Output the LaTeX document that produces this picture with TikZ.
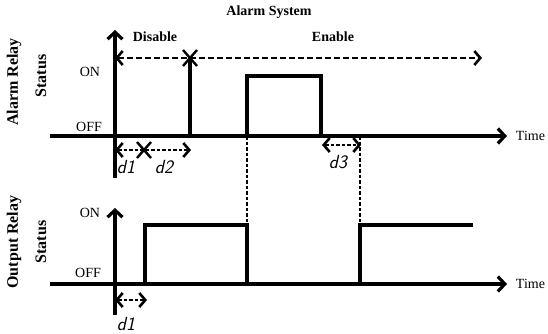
\documentclass[tikz,border=0pt]{standalone}
\usepackage{fontspec}
\setmainfont{Liberation Serif}
\usetikzlibrary{arrows.meta}
\tikzset{
  axis/.style={line width=3.2pt, -{Straight Barb[length=7pt,width=15pt,line width=3.2pt]}},
  signal/.style={line width=3.4pt, line join=miter},
  span/.style={line width=2.6pt, dash pattern=on 6pt off 3pt},
  delay/.style={line width=2.6pt, dash pattern=on 3.5pt off 2pt},
  guide/.style={line width=2.6pt, dash pattern=on 3.5pt off 2pt},
  tip/.style={{Straight Barb[length=6pt,width=14pt,line width=2.6pt]}-{Straight Barb[length=6pt,width=14pt,line width=2.6pt]}},
  lbl/.style={font=\fontsize{14}{14}\selectfont},
  blbl/.style={font=\fontsize{14}{14}\selectfont\bfseries},
  side/.style={font=\fontsize{16}{16}\selectfont\bfseries, rotate=90},
  dlbl/.style={font=\fontsize{19}{19}\selectfont\sffamily\itshape},
}
\begin{document}
\begin{tikzpicture}[x=1pt, y=-1pt]
  \useasboundingbox (0,0) rectangle (548,334);
  % titles
  \node[blbl] (title) at (269,12) {Alarm System};
  \node[blbl] (disable) at (155,37) {Disable};
  \node[blbl] (enable) at (333,37) {Enable};
  % side labels
  \node[side] (alarmlbl) at (14,82) {Alarm Relay};
  \node[side] (alarmstat) at (41,76) {Status};
  \node[side] (outlbl) at (14,242) {Output Relay};
  \node[side] (outstat) at (41,242) {Status};
  % levels
  \node[lbl] (on1) at (90,72) {ON};
  \node[lbl] (off1) at (89,127) {OFF};
  \node[lbl] (on2) at (90,213) {ON};
  \node[lbl] (off2) at (88,273) {OFF};
  % axes
  \draw[axis] (115,178) -- (115,30);
  \draw[axis] (50,136) -- (507,136) node[lbl, right=4pt] (time1) {Time};
  \draw[axis] (115,315) -- (115,208);
  \draw[axis] (50,284) -- (507,284) node[lbl, right=4pt] (time2) {Time};
  % disable / enable span
  \draw[span, tip] (115,58) -- (482,58);
  % alarm relay
  \draw[signal] (190,136) -- (190,58);
  \draw[signal] (247,136) -- (247,76) -- (321,76) -- (321,136);
  % output relay
  \draw[signal] (145,284) -- (145,225) -- (247,225) -- (247,284);
  \draw[signal] (360,284) -- (360,225) -- (473,225);
  % guides
  \draw[guide] (247,136) -- (247,225);
  \draw[guide] (360,136) -- (360,225);
  % delays
  \draw[delay, tip] (115,150) -- (191,150);
  \draw[delay, tip] (322,145) -- (361,145);
  \draw[delay, tip] (115,300) -- (147,300);
  % crosses
  \foreach \x/\y in {190/58, 144/150} {
    \draw[line width=2.4pt] (\x-7,\y-8) -- (\x+7,\y+8) (\x-7,\y+8) -- (\x+7,\y-8);
  }
  % delay names
  \node[dlbl] (d1top) at (126,167) {d1};
  \node[dlbl] (d2top) at (164,167) {d2};
  \node[dlbl] (d3) at (338,162) {d3};
  \node[dlbl] (d1bot) at (126,324) {d1};
\end{tikzpicture}
\end{document}
